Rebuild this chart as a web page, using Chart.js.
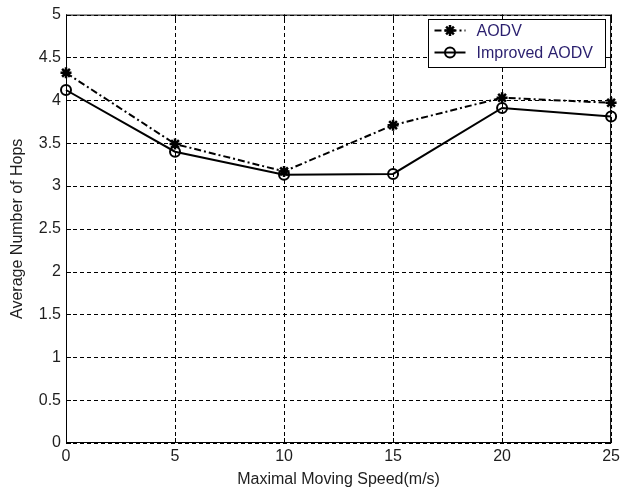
<!DOCTYPE html>
<html>
<head>
<meta charset="utf-8">
<script src="https://cdn.jsdelivr.net/npm/chart.js@4.4.1/dist/chart.umd.min.js"></script>
<style>
  html, body { margin: 0; padding: 0; background: #fff; }
  #wrap { width: 624px; height: 495px; }
</style>
</head>
<body>
<div id="wrap"><canvas id="hopsChart" width="624" height="495"></canvas></div>
<script>
// values
const speeds = [0, 5, 10, 15, 20, 25];
const aodvHops = [4.32, 3.49, 3.17, 3.71, 4.03, 3.97];
const improvedHops = [4.12, 3.40, 3.13, 3.14, 3.91, 3.81];
const seriesLabels = ['AODV', 'Improved AODV'];

const textColor = '#1e1e1e';
const fontFamily = '"Liberation Sans", Arial, sans-serif';

// dashed grid under the lines
const dashedGrid = {
    id: 'dashedGrid',
    beforeDatasetsDraw(chart) {
        const ctx = chart.ctx;
        const a = chart.chartArea;
        const xs = chart.scales.x;
        const ys = chart.scales.y;
        ctx.save();
        ctx.strokeStyle = '#000';
        ctx.lineWidth = 1;
        ctx.setLineDash([4, 3]);
        ctx.beginPath();
        xs.ticks.forEach(t => {
            const px = Math.round(xs.getPixelForValue(t.value)) + 0.5;
            ctx.moveTo(px, a.bottom); ctx.lineTo(px, a.top);
        });
        ys.ticks.forEach(t => {
            const py = Math.round(ys.getPixelForValue(t.value)) + 0.5;
            ctx.moveTo(a.left, py); ctx.lineTo(a.right, py);
        });
        ctx.stroke();
        // solid frame, under the marks so end markers sit on top
        ctx.setLineDash([]);
        ctx.strokeRect(a.left + 0.5, a.top + 0.5, a.right - a.left - 1, a.bottom - a.top - 1);
        ctx.beginPath();
        xs.ticks.forEach(t => {
            const px = Math.round(xs.getPixelForValue(t.value)) + 0.5;
            ctx.moveTo(px, a.bottom); ctx.lineTo(px, a.bottom - 5);
            ctx.moveTo(px, a.top); ctx.lineTo(px, a.top + 5);
        });
        ys.ticks.forEach(t => {
            const py = Math.round(ys.getPixelForValue(t.value)) + 0.5;
            ctx.moveTo(a.left, py); ctx.lineTo(a.left + 5, py);
            ctx.moveTo(a.right, py); ctx.lineTo(a.right - 5, py);
        });
        ctx.stroke();
        ctx.restore();
    }
};

// legend box like the matlab figure
const matlabLegend = {
    id: 'matlabLegend',
    afterDatasetsDraw(chart) {
        const ctx = chart.ctx;
        ctx.save();
        ctx.strokeStyle = '#000';
        ctx.lineWidth = 1;
        const bx = 428.5, by = 19.5, bw = 177, bh = 48;
        ctx.fillStyle = '#fff';
        ctx.fillRect(bx, by, bw, bh);
        ctx.strokeRect(bx, by, bw, bh);
        ctx.font = '16px ' + fontFamily;
        ctx.textBaseline = 'middle';
        chart.data.datasets.forEach((ds, i) => {
            const cy = by + 11 + i * 22;
            ctx.strokeStyle = '#000';
            ctx.lineWidth = 2;
            ctx.setLineDash(ds.borderDash || []);
            ctx.beginPath();
            ctx.moveTo(bx + 6, cy); ctx.lineTo(bx + 37, cy);
            ctx.stroke();
            ctx.setLineDash([]);
            ctx.fillStyle = ds.pointBackgroundColor;
            ctx.lineWidth = ds.pointBorderWidth;
            Chart.helpers.drawPoint(ctx, {
                pointStyle: ds.pointStyle, radius: ds.pointRadius, borderWidth: ds.pointBorderWidth
            }, bx + 21.5, cy);
            ctx.fillStyle = '#2a1f6e';
            ctx.fillText(ds.label, bx + 48, cy + 1);
        });
        ctx.restore();
    }
};

new Chart(document.getElementById('hopsChart'), {
    type: 'line',
    data: {
        datasets: [{
            label: seriesLabels[0],
            data: speeds.map((s, i) => ({ x: s, y: aodvHops[i] })),
            borderColor: '#000',
            backgroundColor: '#000',
            borderWidth: 2,
            borderDash: [7, 3, 2, 3],
            pointStyle: 'star',
            pointRadius: 5.5,
            pointBorderWidth: 2.5,
            pointBorderColor: '#000',
            pointBackgroundColor: '#000',
            clip: false,
            tension: 0
        }, {
            label: seriesLabels[1],
            data: speeds.map((s, i) => ({ x: s, y: improvedHops[i] })),
            borderColor: '#000',
            backgroundColor: 'rgba(0,0,0,0)',
            borderWidth: 2,
            pointStyle: 'circle',
            pointRadius: 5,
            pointBorderWidth: 2,
            pointBorderColor: '#000',
            pointBackgroundColor: 'rgba(0,0,0,0)',
            clip: false,
            tension: 0
        }]
    },
    options: {
        responsive: false,
        animation: false,
        layout: { padding: { top: 12, right: 12, left: 0, bottom: 0 } },
        plugins: {
            legend: { display: false },
            tooltip: { enabled: false }
        },
        scales: {
            x: {
                type: 'linear',
                min: 0,
                max: 25,
                afterFit(scale) { scale.height = 52; },
                ticks: {
                    stepSize: 5,
                    color: textColor,
                    font: { family: fontFamily, size: 16 },
                    padding: 4,
                    maxRotation: 0
                },
                grid: { display: false, drawTicks: false },
                border: { display: false },
                title: {
                    display: true,
                    text: 'Maximal Moving Speed(m/s)',
                    color: textColor,
                    font: { family: fontFamily, size: 16 },
                    padding: { top: 0, bottom: 6 }
                }
            },
            y: {
                min: 0,
                max: 5,
                afterFit(scale) { scale.width = 66; },
                ticks: {
                    stepSize: 0.5,
                    color: textColor,
                    font: { family: fontFamily, size: 16 },
                    padding: 5,
                    callback: v => String(v)
                },
                grid: { display: false, drawTicks: false },
                border: { display: false },
                title: {
                    display: true,
                    text: 'Average Number of Hops',
                    color: textColor,
                    font: { family: fontFamily, size: 16 },
                    padding: { top: 8, bottom: 0 }
                }
            }
        }
    },
    plugins: [dashedGrid, matlabLegend]
});
</script>
</body>
</html>
